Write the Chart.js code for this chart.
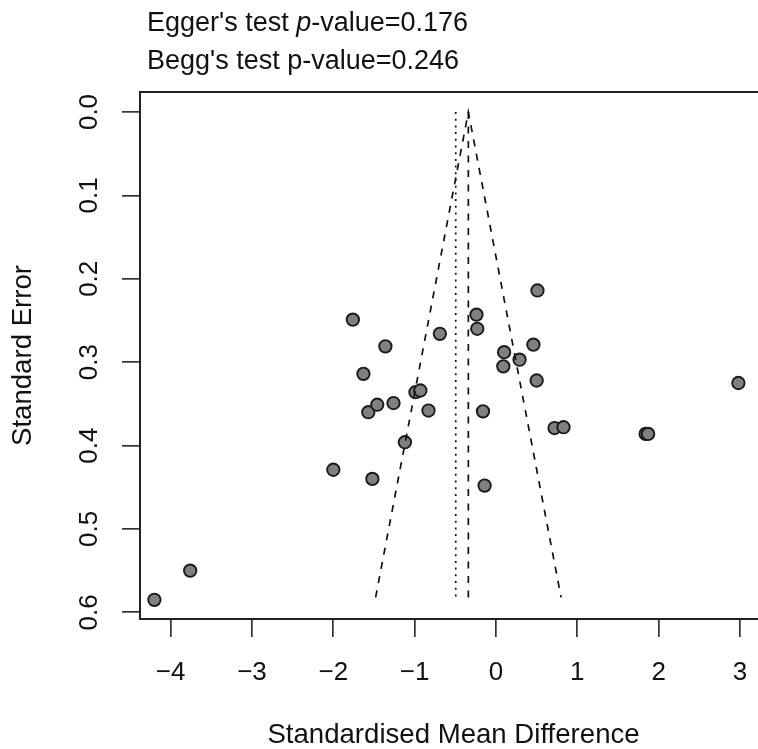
<!DOCTYPE html>
<html>
<head>
<meta charset="utf-8">
<script src="https://cdn.jsdelivr.net/npm/chart.js@4/dist/chart.umd.min.js"></script>
<style>
    html, body { margin: 0; padding: 0; background: #fff; overflow: hidden; width: 758px; height: 749px; }
    #wrap { position: absolute; left: 0; top: 0; width: 758px; height: 749px; overflow: hidden; }
    #funnelChart { position: absolute; left: 0; top: 0; }
    .note { position: absolute; left: 147px; font-family: 'Liberation Sans', Arial, sans-serif; font-size: 27px; line-height: 38px; color: #111; white-space: nowrap; }
</style>
</head>
<body>
<div id="wrap"><canvas id="funnelChart" width="780" height="749"></canvas></div>
<div class="note" style="top: 3px;">Egger's test <i>p</i>-value=0.176</div>
<div class="note" style="top: 41px;">Begg's test p-value=0.246</div>
<script>
// Funnel plot - study effects (SMD) against their standard errors

// study estimates
const studySMD = [0.51, -1.76, -0.24, -0.23, -0.69, -1.36, 0.46, 0.10, 0.29, 0.09,
    -1.63, 0.50, 2.98, -0.99, -0.93, -1.57, -1.46, -1.26, -0.83, -0.16,
    0.72, 0.83, 1.84, 1.87, -1.12, -2.00, -1.52, -0.14, -3.76, -4.20];
const studySE = [0.214, 0.249, 0.243, 0.260, 0.266, 0.281, 0.279, 0.288, 0.297, 0.305,
    0.314, 0.322, 0.325, 0.336, 0.334, 0.360, 0.351, 0.349, 0.358, 0.359,
    0.379, 0.378, 0.386, 0.386, 0.396, 0.429, 0.440, 0.448, 0.550, 0.585];

// pseudo 95% confidence funnel around the pooled estimate
const funnelSMD = [-1.48, -0.34, 0.80];
const funnelSE = [0.582, 0, 0.582];
const pooledSMD = [-0.34, -0.34];
const fixedSMD = [-0.495, -0.495];
const refLineSE = [0, 0.586];

const xTicks = [-4, -3, -2, -1, 0, 1, 2, 3];
const yTicks = [0, 0.1, 0.2, 0.3, 0.4, 0.5, 0.6];

const fontFamily = "'Liberation Sans', Arial, sans-serif";

function toPoints(xs, ys) {
    return xs.map((x, i) => ({ x: x, y: ys[i] }));
}

// R-style box: left, top and bottom sides (the right side is cut off in the original)
const boxPlugin = {
    id: 'plotBox',
    afterDraw(chart) {
        const a = chart.chartArea;
        const ctx = chart.ctx;
        ctx.save();
        ctx.strokeStyle = '#222';
        ctx.lineWidth = 2;
        ctx.beginPath();
        ctx.moveTo(chart.width, a.top);
        ctx.lineTo(a.left, a.top);
        ctx.lineTo(a.left, a.bottom);
        ctx.lineTo(chart.width, a.bottom);
        ctx.stroke();
        ctx.restore();
    }
};

const lineStyle = {
    showLine: true,
    pointRadius: 0,
    borderColor: '#111',
    borderWidth: 1.7,
    fill: false
};

const config = {
    type: 'scatter',
    data: {
        datasets: [
            Object.assign({ label: 'Funnel', data: toPoints(funnelSMD, funnelSE), borderDash: [7, 7.5] }, lineStyle),
            Object.assign({ label: 'Random effect', data: toPoints(pooledSMD, refLineSE), borderDash: [7, 7.5] }, lineStyle),
            Object.assign({ label: 'Fixed effect', data: toPoints(fixedSMD, refLineSE), borderDash: [2, 4.7] }, lineStyle),
            {
                label: 'Studies',
                data: toPoints(studySMD, studySE),
                pointRadius: 6.2,
                pointBorderWidth: 1.9,
                pointBackgroundColor: '#808080',
                pointBorderColor: '#1a1a1a'
            }
        ]
    },
    options: {
        responsive: false,
        animation: false,
        devicePixelRatio: 1,
        layout: { padding: { top: 92, right: 13, left: 0, bottom: 0 } },
        plugins: {
            legend: { display: false },
            tooltip: { enabled: false }
        },
        scales: {
            x: {
                type: 'linear',
                min: -4.377,
                max: 3.332,
                afterBuildTicks: (scale) => { scale.ticks = xTicks.map(v => ({ value: v })); },
                afterFit: (scale) => { scale.height = 130; },
                grid: { drawOnChartArea: false, drawTicks: true, tickLength: 18, color: '#333', lineWidth: 1.7 },
                border: { display: false },
                ticks: {
                    padding: 20,
                    color: '#111',
                    font: { family: fontFamily, size: 26 },
                    maxRotation: 0,
                    callback: (v) => v < 0 ? '\u2212' + Math.abs(v) : String(v)
                },
                title: {
                    display: true,
                    text: 'Standardised Mean Difference',
                    color: '#111',
                    font: { family: fontFamily, size: 27.6, lineHeight: 1 },
                    padding: { top: 0, bottom: 0 }
                }
            },
            y: {
                type: 'linear',
                reverse: true,
                min: -0.024,
                max: 0.608,
                afterBuildTicks: (scale) => { scale.ticks = yTicks.map(v => ({ value: v })); },
                afterFit: (scale) => { scale.width = 140; },
                grid: { drawOnChartArea: false, drawTicks: true, tickLength: 18, color: '#333', lineWidth: 1.7 },
                border: { display: false },
                ticks: {
                    padding: 14,
                    color: '#111',
                    crossAlign: 'center',
                    minRotation: 90,
                    maxRotation: 90,
                    font: { family: fontFamily, size: 26 },
                    callback: (v) => v.toFixed(1)
                },
                title: {
                    display: true,
                    text: 'Standard Error',
                    color: '#111',
                    font: { family: fontFamily, size: 27.6, lineHeight: 1.2 },
                    padding: { top: 6.5, bottom: 0 }
                }
            }
        }
    },
    plugins: [boxPlugin]
};

const ctx = document.getElementById('funnelChart').getContext('2d');
const funnelChart = new Chart(ctx, config);
</script>
</body>
</html>
